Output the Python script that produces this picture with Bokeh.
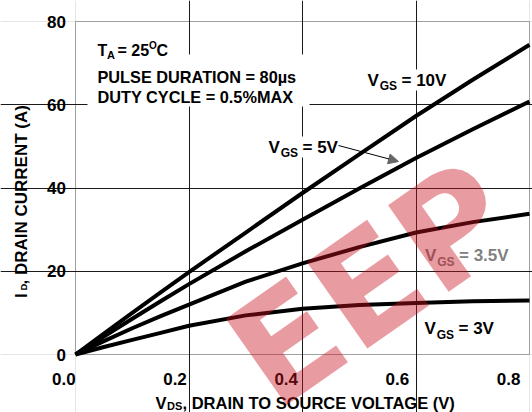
import math
from bokeh.plotting import figure
from bokeh.models import Label, Arrow, NormalHead, BoxAnnotation, Range1d, FixedTicker, Grid
from bokeh.embed import file_html
from bokeh.resources import INLINE

# ---------------- data ----------------
vds = [0.0, 0.05, 0.1, 0.15, 0.2, 0.3, 0.4, 0.5, 0.6, 0.7, 0.8]
id_vgs_10v = [0.0, 5.0, 10.0, 14.9, 19.8, 29.3, 38.8, 48.1, 57.3, 66.0, 74.4]
id_vgs_5v = [0.0, 4.3, 8.6, 12.8, 16.9, 24.8, 32.4, 39.9, 47.2, 54.1, 60.8]
id_vgs_3v5 = [0.0, 3.2, 6.3, 9.2, 12.0, 17.5, 21.9, 25.8, 29.3, 31.8, 33.8]
id_vgs_3v = [0.0, 1.8, 3.5, 5.2, 6.9, 9.4, 11.0, 11.9, 12.4, 12.8, 13.0]

x_ticks = [0.0, 0.2, 0.4, 0.6, 0.8]
x_tick_labels = ["0.0", "0.2", "0.4", "0.6", "0.8"]
y_ticks = [0, 20, 40, 60, 80]
y_tick_labels = ["0", "20", "40", "60", "80"]

FONT = "Liberation Sans"

# canvas size and where the plot box sits on it (px)
W, H = 532, 412
FL, FT, FW, FH = 75, 21, 454, 333
X0, X1, Y0, Y1 = 0.0, 0.8, 0.0, 80.0


def dx(px):
    return X0 + (px - FL) / FW * (X1 - X0)


def dy(py):
    return Y0 + (FT + FH - py) / FH * (Y1 - Y0)


p = figure(width=W, height=H, x_range=Range1d(dx(0), dx(W)), y_range=Range1d(dy(H), dy(0)),
           output_backend="svg", toolbar_location=None,
           x_axis_location=None, y_axis_location=None,
           min_border_left=0, min_border_right=0, min_border_top=0, min_border_bottom=0)
p.background_fill_color = "white"
p.border_fill_color = "white"
p.outline_line_color = None

# grid lines, limited to the plot box
p.add_layout(Grid(dimension=0, ticker=FixedTicker(ticks=x_ticks[1:-1]), bounds=(Y0, Y1),
                  grid_line_color="#1a1a1a", grid_line_width=1))
p.add_layout(Grid(dimension=1, ticker=FixedTicker(ticks=y_ticks[1:-1]), bounds=(X0, X1),
                  grid_line_color="#1a1a1a", grid_line_width=1))

for ys in (id_vgs_10v, id_vgs_5v, id_vgs_3v5, id_vgs_3v):
    p.line(vds, ys, line_color="black", line_width=4, line_join="round")

# plot box
p.add_layout(BoxAnnotation(left=X0, right=X1, bottom=Y0, top=Y1, fill_alpha=0.0,
                           line_color="black", line_width=1))

# white box behind the conditions text (hides the grid there)
p.add_layout(BoxAnnotation(left=dx(87), right=dx(309), top=dy(54), bottom=dy(106),
                           fill_color="white", fill_alpha=1.0, line_color=None))


def lab(px, py, text, size, color="black", bg=None, align="left", baseline="alphabetic",
        angle=0.0, x=None, y=None):
    kw = dict(x=dx(px) if x is None else x, y=dy(py) if y is None else y, text=text,
              text_font=FONT, text_font_style="bold",
              text_font_size=f"{size}px", text_color=color, text_align=align,
              text_baseline=baseline, angle=angle)
    if bg is not None:
        kw.update(background_fill_color=bg, padding=1)
    lbl = Label(**kw)
    p.add_layout(lbl)
    return lbl


# tick labels
for t, s in zip(x_ticks, x_tick_labels):
    lab(63.3 + t / 0.2 * 111.2, 378.3, s, 17, align="center")
for t, s in zip(y_ticks, y_tick_labels):
    lab(65.5, None, s, 17, align="right", baseline="middle", y=t)

# conditions text
lab(97, 50, "T", 16)
lab(106.5, 54, "A", 11)
lab(117, 50, "= 25", 16)
lab(148.5, 44.5, "O", 10)
lab(156, 50, "C", 16)
lab(97, 76.5, "PULSE DURATION = 80µs", 16.3)
lab(97, 96.5, "DUTY CYCLE = 0.5%MAX", 16.3)


def vgs(px, py, rest, color="black"):
    lab(px, py, "V", 17, color=color, bg="white")
    lab(px + 12.2, py + 6, "GS", 12, color=color, bg="white")
    lab(px + 34, py, rest, 17, color=color, bg="white")


vgs(366, 79.5, "= 10V")
vgs(267, 146.5, "= 5V")
vgs(423.5, 255, "= 3.5V", color="#808080")
vgs(423, 328, "= 3V")

p.add_layout(Arrow(end=NormalHead(size=10, fill_color="#666666", line_color="#666666"),
                   x_start=dx(338), y_start=dy(145), x_end=dx(398), y_end=dy(161),
                   line_color="black", line_width=1))

# axis titles
lab(155, 402, "V", 16.5)
lab(166.5, 405.5, "DS", 11)
lab(182, 402, ", DRAIN TO SOURCE VOLTAGE (V)", 16.5)

lab(21, 297.5, "I", 17, angle=math.pi / 2)
lab(22.5, 290, "D", 9.5, angle=math.pi / 2)
lab(21, 284, ", DRAIN CURRENT (A)", 17, angle=math.pi / 2)

# watermark (the part that lies inside the picture)
wm = Label(x=dx(246), y=dy(371), text="EEP", text_font="DejaVu Sans", text_font_style="bold",
           text_font_size="145px", text_color="#c8141e", text_alpha=0.42,
           text_align="left", text_baseline="alphabetic", angle=0.61)
wm.level = "overlay"
p.add_layout(wm)

open("out.html", "w").write(file_html(p, INLINE))
